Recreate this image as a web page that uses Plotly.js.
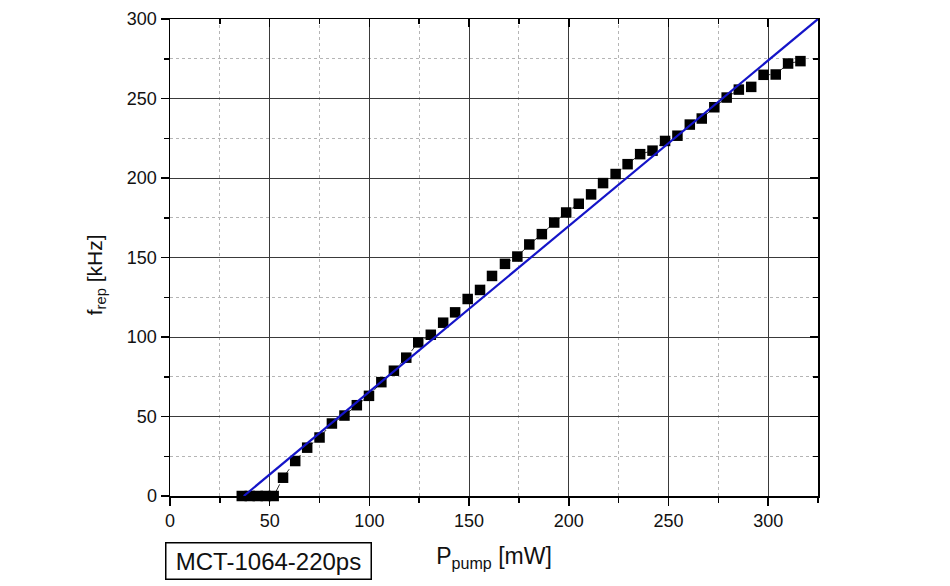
<!DOCTYPE html>
<html>
<head>
<meta charset="utf-8">
<script src="https://cdn.plot.ly/plotly-3.0.1.min.js"></script>
<style>html,body{margin:0;padding:0;background:#fff;}#chart{width:950px;height:586px;}</style>
</head>
<body>
<div id="chart"></div>
<script>
const pumpPower = [36, 40, 44, 48, 52, 56.7, 62.8, 68.8, 75, 81.2, 87.5, 93.7, 99.8, 106, 112.3, 118.5, 124.5, 130.8, 137, 143, 149.3, 155.5, 161.5, 168, 174.2, 180.2, 186.5, 192.7, 198.7, 205, 211.2, 217.2, 223.5, 229.5, 235.8, 242, 248.3, 254.5, 260.7, 266.7, 273, 279.2, 285.3, 291.5, 297.7, 303.8, 310, 316.2];
const repRate = [0, 0, 0, 0, 0, 11.5, 22, 30.4, 36.8, 45.6, 50.6, 57.1, 63, 71.6, 78.8, 87, 96.6, 101.4, 109, 115.5, 123.9, 129.6, 138.4, 146, 150.6, 158.2, 164.7, 172, 178.3, 183.8, 189.7, 196.8, 202.5, 208.7, 215, 217.2, 223.3, 226.6, 233.6, 237.4, 244.5, 250.6, 255.6, 257.3, 264.9, 265.1, 272, 273.5];
const fitX = [37, 325];
const fitY = [0, 300];
const xTicks = [0, 50, 100, 150, 200, 250, 300];
const yTicks = [0, 50, 100, 150, 200, 250, 300];

const fam = 'Liberation Sans, Arial, sans-serif';
const font = {family: fam, color: '#111'};

const traces = [
  {
    x: pumpPower, y: repRate, type: 'scatter', mode: 'lines+markers',
    line: {color: '#333', width: 1, dash: 'dash'},
    marker: {symbol: 'square', size: 10.5, color: '#000'},
    cliponaxis: false, showlegend: false
  },
  {
    x: fitX, y: fitY, type: 'scatter', mode: 'lines',
    line: {color: '#1414c8', width: 2.2},
    showlegend: false
  }
];

const common = {
  showline: true, linecolor: '#000', linewidth: 1.5,
  zeroline: false, mirror: false
};

const layout = {
  width: 950, height: 586,
  margin: {l: 170, r: 132, t: 19, b: 90},
  paper_bgcolor: '#fff', plot_bgcolor: '#fff',
  font: font,
  showlegend: false,
  xaxis: Object.assign({}, common, {
    range: [0, 325], tickvals: xTicks, ticktext: xTicks.map(String),
    ticks: 'outside', ticklen: 8, tickwidth: 1.5, tickcolor: '#000',
    tickfont: {size: 18, family: fam, color: '#111'},
    showgrid: true, gridcolor: '#3a3a3a', gridwidth: 1,
    minor: {dtick: 25, tick0: 0, ticks: 'outside', ticklen: 5, tickwidth: 1.5, tickcolor: '#000', showgrid: true, gridcolor: '#b5b5b5', griddash: 'dot', gridwidth: 1},
    title: {text: 'P<sub>pump</sub> [mW]', font: {size: 23, family: fam, color: '#111'}, standoff: 18}
  }),
  yaxis: Object.assign({}, common, {
    range: [0, 300], tickvals: yTicks, ticktext: yTicks.map(String),
    ticks: 'outside', ticklen: 8, tickwidth: 1.5, tickcolor: '#000',
    tickfont: {size: 18, family: fam, color: '#111'},
    showgrid: true, gridcolor: '#3a3a3a', gridwidth: 1,
    minor: {dtick: 25, tick0: 0, ticks: 'outside', ticklen: 5, tickwidth: 1.5, tickcolor: '#000', showgrid: true, gridcolor: '#b5b5b5', griddash: 'dot', gridwidth: 1}
  }),
  xaxis2: {
    overlaying: 'x', side: 'top', range: [0, 325],
    showline: true, linecolor: '#000', linewidth: 1.5, zeroline: false, showgrid: false,
    tickvals: xTicks, showticklabels: false, ticks: 'inside', ticklen: 8, tickwidth: 1.5, tickcolor: '#000',
    minor: {dtick: 25, tick0: 0, ticks: 'inside', ticklen: 5, tickwidth: 1.5, tickcolor: '#000', showgrid: false}
  },
  yaxis2: {
    overlaying: 'y', side: 'right', range: [0, 300],
    showline: true, linecolor: '#000', linewidth: 1.5, zeroline: false, showgrid: false,
    tickvals: yTicks, showticklabels: false, ticks: 'inside', ticklen: 8, tickwidth: 1.5, tickcolor: '#000',
    minor: {dtick: 25, tick0: 0, ticks: 'inside', ticklen: 5, tickwidth: 1.5, tickcolor: '#000', showgrid: false}
  },
  annotations: [
    {
      xref: 'paper', yref: 'paper', x: 0, y: -0.0964, xanchor: 'left', yanchor: 'top',
      xshift: -5,
      text: 'MCT-1064-220ps', showarrow: false,
      width: 204, height: 35, align: 'center', valign: 'middle',
      font: {size: 24, family: fam, color: '#111'},
      bordercolor: '#000', borderwidth: 1.5, borderpad: 0, bgcolor: '#fff'
    },
    {
      xref: 'paper', yref: 'paper', x: -0.114, y: 0.463, xanchor: 'center', yanchor: 'middle',
      textangle: -90, showarrow: false,
      text: 'f<sub>rep</sub> [kHz]',
      font: {size: 21, family: fam, color: '#111'}
    }
  ]
};

traces.push({x: [0], y: [0], xaxis: 'x2', yaxis: 'y2', mode: 'markers', marker: {opacity: 0}, hoverinfo: 'skip', showlegend: false});

Plotly.newPlot('chart', traces, layout, {displayModeBar: false, staticPlot: true});
</script>
</body>
</html>
